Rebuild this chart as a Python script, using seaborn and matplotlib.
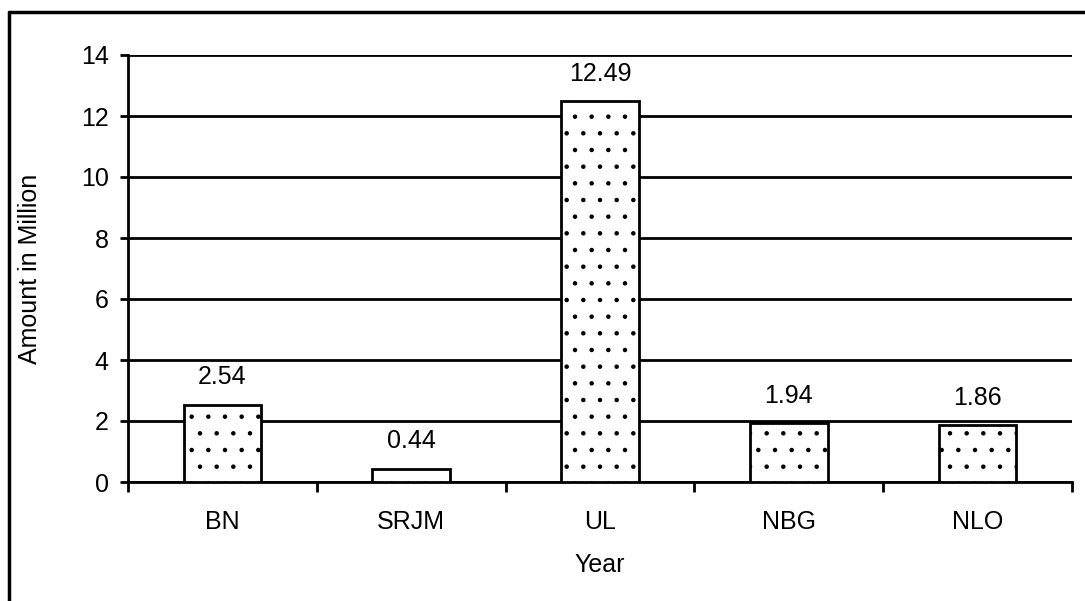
import matplotlib
matplotlib.use("Agg")
import matplotlib.pyplot as plt
import seaborn as sns
import pandas as pd
from matplotlib.lines import Line2D

categories = ["BN", "SRJM", "UL", "NBG", "NLO"]
values = [2.54, 0.44, 12.49, 1.94, 1.86]
yticks = [0, 2, 4, 6, 8, 10, 12, 14]

sns.set_theme(style="white")
plt.rcParams['font.family'] = ['Liberation Sans', 'DejaVu Sans']
plt.rcParams['hatch.linewidth'] = 0.8
plt.rcParams['hatch.color'] = '#555555'
plt.rcParams['text.color'] = 'black'
plt.rcParams['axes.labelcolor'] = 'black'
plt.rcParams['xtick.color'] = 'black'
plt.rcParams['ytick.color'] = 'black'

FS = 18

W, H = 1085, 601
fig = plt.figure(figsize=(W / 100, H / 100), dpi=100)
ax = fig.add_axes([128 / W, 1 - 482 / H, (1072 - 128) / W, (482 - 55) / H])

df = pd.DataFrame({"cat": categories, "val": values})
sns.barplot(data=df, x="cat", y="val", ax=ax, color="white", width=0.41,
            edgecolor="black", linewidth=2, saturation=1, zorder=3)
for p in ax.patches:
    p.set_hatch(".")

ax.set_ylim(0, 14)
ax.set_yticks(yticks)
ax.set_xlim(-0.5, 4.5)
ax.yaxis.grid(True, color="black", linewidth=2, zorder=0)
ax.set_axisbelow(True)
for s in ["top", "right"]:
    ax.spines[s].set_visible(False)
for s in ["left", "bottom"]:
    ax.spines[s].set_linewidth(2)
    ax.spines[s].set_color("black")

ax.tick_params(axis="y", direction="out", length=6, width=2, color="black",
               labelsize=FS, pad=8, left=True)
ax.set_xticks(range(len(categories)))
ax.set_xticklabels(categories)
ax.tick_params(axis="x", length=0, labelsize=FS, pad=20, bottom=True)
ax.set_xticks([i - 0.5 for i in range(len(categories) + 1)], minor=True)
ax.tick_params(axis="x", which="minor", direction="out", length=7, width=2,
               color="black", bottom=True)

for i, v in enumerate(values):
    ax.text(i, v + 0.5, f"{v:.2f}", ha="center", va="bottom", fontsize=FS)

ax.set_xlabel("Year", fontsize=FS, labelpad=14)
ax.set_ylabel("Amount in Million", fontsize=FS, labelpad=28)

fig.add_artist(Line2D([8.5 / W, 8.5 / W], [0, 1 - 12 / H], transform=fig.transFigure,
                      color="black", linewidth=2.5))
fig.add_artist(Line2D([8.5 / W, 1], [1 - 12 / H, 1 - 12 / H], transform=fig.transFigure,
                      color="black", linewidth=2.5))

fig.savefig("out.png", dpi=100, facecolor="white")
